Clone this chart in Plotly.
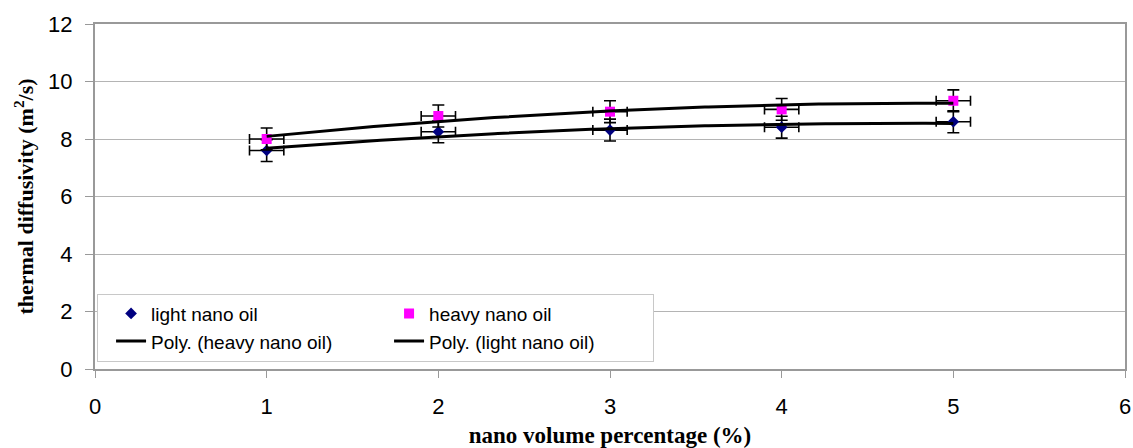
import numpy as np
import plotly.graph_objects as go

# nano volume percentage (%)
volume_pct = [1, 2, 3, 4, 5]
# thermal diffusivity readings
light_oil = [7.6, 8.25, 8.31, 8.41, 8.6]
heavy_oil = [8.0, 8.8, 8.95, 9.03, 9.33]
# fixed error bar half-widths
y_err = 0.38
x_err = 0.1

y_ticks = [0, 2, 4, 6, 8, 10, 12]
x_ticks = [0, 1, 2, 3, 4, 5, 6]


def poly_trend(x, y, order=2, n=200):
    coeffs = np.polyfit(x, y, order)
    xs = np.linspace(min(x), max(x), n)
    return xs, np.polyval(coeffs, xs)


err_y = dict(type="constant", value=y_err, color="black", thickness=1.6, width=6)
err_x = dict(type="constant", value=x_err, color="black", thickness=1.6, width=5)

hx, hy = poly_trend(volume_pct, heavy_oil)
lx, ly = poly_trend(volume_pct, light_oil)

fig = go.Figure()

# legend groups act as the two legend columns
fig.add_trace(go.Scatter(
    x=volume_pct, y=light_oil, mode="markers", name="light nano oil",
    legendgroup="col1",
    marker=dict(symbol="diamond", size=9, color="#000080"),
    error_y=err_y, error_x=err_x,
))
fig.add_trace(go.Scatter(
    x=volume_pct, y=heavy_oil, mode="markers", name="heavy nano oil",
    legendgroup="col2",
    marker=dict(symbol="square", size=10, color="#FF00FF"),
    error_y=err_y, error_x=err_x,
))
fig.add_trace(go.Scatter(
    x=hx, y=hy, mode="lines", name="Poly. (heavy nano oil)",
    legendgroup="col1",
    line=dict(color="black", width=3),
))
fig.add_trace(go.Scatter(
    x=lx, y=ly, mode="lines", name="Poly. (light nano oil)",
    legendgroup="col2",
    line=dict(color="black", width=3),
))

tick_font = dict(family="Liberation Sans, Arial", size=22, color="black")
title_font = dict(family="Liberation Serif, Times New Roman", size=22, color="black")

fig.update_layout(
    width=1133, height=448,
    margin=dict(l=95, r=8, t=24, b=79, autoexpand=False),
    paper_bgcolor="white", plot_bgcolor="white",
    showlegend=True,
    legend=dict(
        orientation="h", x=0.002, xanchor="left", y=0.2187, yanchor="top",
        entrywidth=219, entrywidthmode="pixels", indentation=14,
        tracegroupgap=0,
        bgcolor="white", bordercolor="#c8c8c8", borderwidth=1,
        font=dict(family="Liberation Sans, Arial", size=19, color="black"),
        traceorder="grouped",
    ),
    xaxis=dict(
        range=[0, 6], tickvals=x_ticks, ticktext=[str(v) for v in x_ticks],
        showgrid=False, zeroline=False,
        showline=True, linecolor="#999999", linewidth=2, mirror=True,
        ticks="outside", ticklen=7, tickcolor="#999999", tickwidth=1,
        tickfont=tick_font, ticklabelstandoff=10,
        title=dict(text="<b>nano volume percentage (%)</b>",
                   font=dict(family="Liberation Serif, Times New Roman", size=23, color="black"),
                   standoff=9),
    ),
    yaxis=dict(
        range=[0, 12], tickvals=y_ticks, ticktext=[str(v) for v in y_ticks],
        showgrid=True, gridcolor="#b4b4b4", gridwidth=1, zeroline=False,
        showline=True, linecolor="#999999", linewidth=2, mirror=True,
        ticks="outside", ticklen=8, tickcolor="#999999", tickwidth=1,
        tickfont=tick_font, ticklabelstandoff=8,
        title=dict(text="<b>thermal diffusivity (m<sup>2</sup>/s)</b>", font=title_font, standoff=8),
    ),
)

fig.write_html("out.html")
